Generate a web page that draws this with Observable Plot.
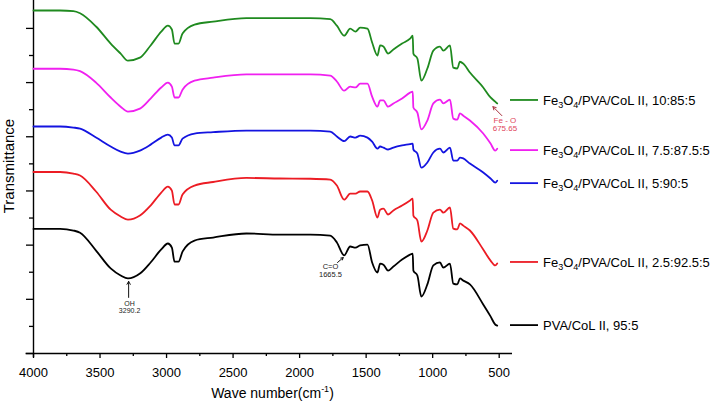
<!DOCTYPE html>
<html><head><meta charset="utf-8">
<script src="https://cdn.jsdelivr.net/npm/d3@7"></script>
<script src="https://cdn.jsdelivr.net/npm/@observablehq/plot@0.6"></script>
<style>body{margin:0;background:#fff}#chart{width:710px;height:405px}</style>
</head><body><div id="chart"></div>
<script>
// shared wavenumber grid (cm-1)
const wavenumbers = [4000,3800,3700,3650,3530,3420,3345,3290,3200,3120,3040,2990,2960,2940,2910,2880,2790,2650,2400,2150,1920,1770,1720,1665,1620,1580,1545,1490,1455,1415,1395,1370,1335,1295,1230,1170,1150,1145,1115,1085,1040,995,945,920,870,845,815,795,770,720,620,565,530,515];

// transmittance (offset, arbitrary units) per sample
const fe10 = [12.66,12.66,12.64,12.56,12.07,11.44,11.07,10.81,10.92,11.37,11.88,12.10,11.96,11.44,11.44,11.81,12.14,12.25,12.38,12.38,12.38,12.34,12.10,11.73,11.99,11.88,12.03,11.99,11.48,11.00,11.37,11.33,11.07,11.22,11.44,11.62,11.73,11.07,10.89,10.07,10.52,11.18,11.33,11.18,11.37,10.55,10.52,10.77,10.70,10.37,9.82,9.45,9.30,9.23];
const fe75 = [10.51,10.51,10.48,10.42,10.00,9.45,9.11,8.93,9.04,9.41,9.82,10.00,9.85,9.45,9.45,9.74,10.07,10.18,10.30,10.30,10.30,10.26,10.04,9.70,9.85,9.82,9.96,9.96,9.48,9.11,9.34,9.34,9.11,9.23,9.41,9.63,9.67,9.08,8.89,8.27,8.60,9.23,9.37,9.23,9.37,8.67,8.63,8.86,8.78,8.60,8.12,7.75,7.49,7.56];
const fe5 = [8.38,8.38,8.34,8.30,7.97,7.64,7.45,7.38,7.49,7.71,7.97,8.08,7.97,7.68,7.68,7.93,8.12,8.17,8.23,8.23,8.23,8.19,8.01,7.84,8.01,7.97,8.04,7.97,7.82,7.56,7.64,7.60,7.53,7.60,7.68,7.73,7.75,7.53,7.38,6.86,7.05,7.42,7.56,7.42,7.60,7.12,7.12,7.23,7.20,7.01,6.68,6.46,6.31,6.38];
const fe25 = [6.70,6.70,6.64,6.57,5.98,5.31,5.06,4.94,5.09,5.46,5.94,6.16,6.01,5.50,5.50,5.87,6.20,6.33,6.48,6.46,6.45,6.42,6.20,5.68,5.90,5.90,5.98,5.98,5.65,5.02,5.31,5.35,5.13,5.28,5.46,5.65,5.72,5.09,4.91,4.13,4.54,5.20,5.31,5.20,5.39,4.61,4.58,4.80,4.72,4.54,3.84,3.43,3.25,3.32];
const pva = [4.60,4.60,4.54,4.46,3.80,3.14,2.88,2.77,2.95,3.36,3.84,4.06,3.91,3.39,3.39,3.76,4.17,4.28,4.43,4.39,4.39,4.35,4.10,3.62,3.95,3.91,3.99,4.02,3.36,2.99,3.32,3.28,3.06,3.21,3.47,3.65,3.69,3.06,2.88,2.10,2.55,3.25,3.36,3.17,3.32,2.58,2.55,2.77,2.69,2.55,1.81,1.37,1.07,1.03];

const seriesNames = ["Fe3O4/PVA/CoL II, 10:85:5","Fe3O4/PVA/CoL II, 7.5:87.5:5","Fe3O4/PVA/CoL II, 5:90:5","Fe3O4/PVA/CoL II, 2.5:92.5:5","PVA/CoL II, 95:5"];
const seriesValues = [fe10, fe75, fe5, fe25, pva];
const seriesColors = ["#1f8a1f","#f020f0","#1414e0","#ec1c24","#000000"];
const legendY = [9.34, 7.49, 6.27, 3.36, 1.03];

const xTicks = [4000,3500,3000,2500,2000,1500,1000,500];
const xMinorTicks = [3750,3250,2750,2250,1750,1250,750];
const yMajorTicks = [0,2,4,6,8,10,12];
const yMinorTicks = [1,3,5,7,9,11];

// annotations
const annText = ["OH\n3290.2","C=O\n1665.5","Fe - O\n675.65"];
const annTextX = [3278, 1768, 457];
const annTextY = [1.72, 3.08, 8.47];
const annFromX = [3285, 1715, 480];
const annFromY = [2.07, 3.36, 8.78];
const annToX = [3285, 1672, 547];
const annToY = [2.66, 3.54, 9.11];
const annColor = ["#222222","#222222","#e0455a"];
const annArrowColor = ["#111111","#111111","#a8323f"];
const annSize = [7, 7.5, 8];

const FONT = "'Liberation Sans', Arial, Helvetica, sans-serif";

const rows = [];
seriesValues.forEach((vals, i) => vals.forEach((v, j) => rows.push({name: seriesNames[i], wn: wavenumbers[j], t: v})));

const annMarks = [];
annText.forEach((txt, i) => {
  annMarks.push(Plot.arrow([i], {x1: annFromX[i], y1: annFromY[i], x2: annToX[i], y2: annToY[i], stroke: annArrowColor[i], strokeWidth: 1, headLength: 5, inset: 0}));
  annMarks.push(Plot.text([i], {x: annTextX[i], y: annTextY[i], text: () => txt, fill: annColor[i], fontSize: annSize[i], lineHeight: 1.05, textAnchor: "middle"}));
});

const chart = Plot.plot({
  width: 710, height: 405,
  marginLeft: 33, marginRight: 198, marginTop: 0, marginBottom: 52,
  style: {fontFamily: FONT, fontSize: "13px", background: "#fff", overflow: "visible"},
  x: {domain: [4000, 400]},
  y: {domain: [0, 13.03]},
  color: {domain: seriesNames, range: seriesColors},
  marks: [
    Plot.axisX({ticks: xTicks, tickSize: 5, tickPadding: 9, fontSize: 13, label: null, strokeWidth: 1.3, tickFormat: d => String(d)}),
    Plot.axisX({ticks: xMinorTicks, tickSize: 3, tickFormat: () => "", label: null, strokeWidth: 1.3}),
    Plot.axisY({ticks: yMajorTicks, tickSize: 7, tickFormat: () => "", label: null, strokeWidth: 1.3}),
    Plot.axisY({ticks: yMinorTicks, tickSize: 4, tickFormat: () => "", label: null, strokeWidth: 1.3}),
    Plot.ruleX([4000], {y1: -0.15, y2: 13.03, strokeWidth: 1.4}),
    Plot.ruleY([0], {x1: 4056, x2: 400, strokeWidth: 1.4}),
    Plot.line(rows, {x: "wn", y: "t", z: "name", stroke: "name", strokeWidth: 1.8, curve: "monotone-x"}),
    ...annMarks
  ]
});
document.getElementById("chart").append(chart);

const svg = d3.select(chart);
const xs = chart.scale("x"), ys = chart.scale("y");

// legend
const lg = svg.append("g").attr("font-family", FONT).attr("font-size", 13).attr("fill", "#000").attr("text-anchor", "start");
seriesNames.forEach((name, i) => {
  const yy = ys.apply(legendY[i]);
  lg.append("line").attr("x1", 510).attr("x2", 538).attr("y1", yy).attr("y2", yy)
    .attr("stroke", seriesColors[i]).attr("stroke-width", 1.8);
  const t = lg.append("text").attr("x", 543).attr("y", yy).attr("dy", "0.36em").attr("text-anchor", "start");
  const m = name.match(/^Fe(\d)O(\d)(.*)$/);
  if (m) {
    t.append("tspan").text("Fe");
    t.append("tspan").attr("font-size", 9).attr("dy", 3).text(m[1]);
    t.append("tspan").attr("dy", -3).text("O");
    t.append("tspan").attr("font-size", 9).attr("dy", 3).text(m[2]);
    t.append("tspan").attr("dy", -3).text(m[3]);
  } else {
    t.text(name);
  }
});

// axis titles
const xMid = (xs.apply(4000) + xs.apply(400)) / 2;
const xl = svg.append("text").attr("x", xMid).attr("y", 398).attr("text-anchor", "middle")
  .attr("font-family", FONT).attr("font-size", 14).attr("fill", "#000");
xl.append("tspan").text("Wave number(cm");
xl.append("tspan").attr("font-size", 9).attr("dy", -6).text("-1");
xl.append("tspan").attr("dy", 6).text(")");

const yMid = ys.apply(6.9);
svg.append("text").attr("transform", `translate(14,${yMid}) rotate(-90)`).attr("text-anchor", "middle")
  .attr("font-family", FONT).attr("font-size", 15).attr("fill", "#000").text("Transmittance");
</script>
</body></html>
